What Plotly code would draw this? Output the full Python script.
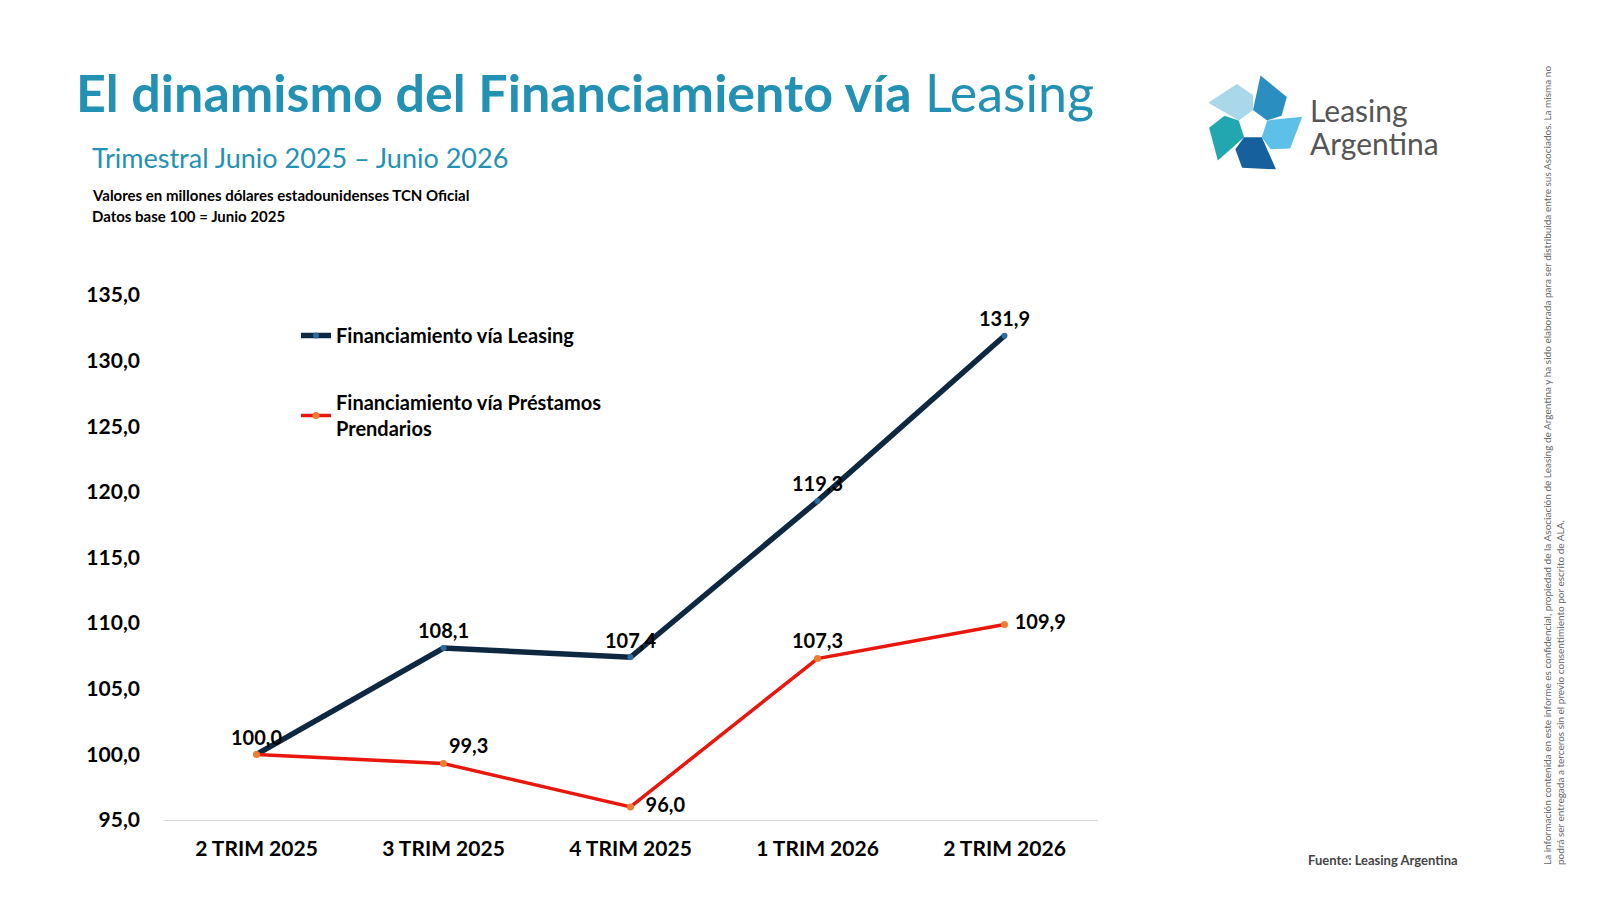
import math
import plotly.graph_objects as go

categories = ["2 TRIM 2025", "3 TRIM 2025", "4 TRIM 2025", "1 TRIM 2026", "2 TRIM 2026"]
leasing = [100.0, 108.1, 107.4, 119.3, 131.9]
prendarios = [100.0, 99.3, 96.0, 107.3, 109.9]
prend_labels = ["", "99,3", "  96,0", "107,3", " 109,9"]

FONT = "Lato"

# plot area in pixels: x 155..1090, y 287..812
L, R, T, B = 155, 1090, 287, 812
def px(x):
  return (x - L) / (R - L)
def py(y):
  return (B - y) / (B - T)

fig = go.Figure()
fig.add_trace(go.Scatter(
  x=categories, y=leasing, name="Financiamiento vía Leasing", legendgroup="a",
  mode="lines+markers+text", line=dict(color="#0e2841", width=5.5),
  marker=dict(color="#2e6b9e", size=6), cliponaxis=False,
  texttemplate="%{y:.1f}", textposition="top center",
  textfont=dict(family=FONT, size=20, color="black", weight="bold")))
fig.add_trace(go.Scatter(
  x=categories, y=prendarios, name="Financiamiento vía Préstamos<br>Prendarios", legendgroup="b",
  mode="lines+markers+text", line=dict(color="#e8160c", width=3.5),
  marker=dict(color="#ed7d31", size=7), cliponaxis=False,
  text=prend_labels,
  textposition=["top center", "top right", "middle right", "top center", "middle right"],
  textfont=dict(family=FONT, size=20, color="black", weight="bold")))

shapes = []
# logo: five coloured arms around a hole
cx, cy = 1245, 117
cols = ["#2a8fc0", "#5cc0e8", "#17609e", "#22a7b0", "#a8d8ea"]
for i in range(5):
  a0 = math.radians(-90 + i * 72)
  a1 = math.radians(-90 + (i + 1) * 72)
  am = math.radians(-90 + i * 72 + 36)
  pts = [(cx + 15 * math.cos(a0), cy + 15 * math.sin(a0)),
         (cx + 50 * math.cos(a0 + 0.15), cy + 50 * math.sin(a0 + 0.15)),
         (cx + 44 * math.cos(am + 0.25), cy + 44 * math.sin(am + 0.25)),
         (cx + 30 * math.cos(a1), cy + 30 * math.sin(a1)),
         (cx + 15 * math.cos(a1), cy + 15 * math.sin(a1))]
  path = "M " + " L ".join(f"{px(x):.4f},{py(y):.4f}" for x, y in pts) + " Z"
  shapes.append(dict(type="path", xref="paper", yref="paper", path=path,
                     fillcolor=cols[i], line=dict(width=0)))

def ann(x, y, text, size, color="black", xanchor="left", **kw):
  return dict(x=px(x), y=py(y), xref="paper", yref="paper", text=text, showarrow=False,
              xanchor=xanchor, yanchor="middle", align="left",
              font=dict(family=FONT, size=size, color=color), **kw)

annotations = [
  ann(66, 84, "<b>El dinamismo del Financiamiento vía</b> Leasing", 52, "#2291b3"),
  ann(82, 150, "Trimestral Junio 2025 – Junio 2026", 27, "#2291b3"),
  ann(82, 187, "<b>Valores en millones dólares estadounidenses TCN Oficial</b>", 15),
  ann(82, 208, "<b>Datos base 100 = Junio 2025</b>", 15),
  ann(1300, 102, "Leasing", 30, "#555555"),
  ann(1300, 135, "Argentina", 30, "#555555"),
  ann(1298, 852, "<b>Fuente: Leasing Argentina</b>", 13, "#444444"),
  ann(1545, 458, "La información contenida en este informe es confidencial, propiedad de la Asociación de Leasing de Argentina y ha sido elaborada para ser distribuida entre sus Asociados. La misma no<br>podrá ser entregada a terceros sin el previo consentimiento por escrito de ALA.",
      10, "#666666", xanchor="center", textangle=-90),
]

fig.update_layout(
  width=1600, height=900, plot_bgcolor="white", paper_bgcolor="white",
  margin=dict(l=L, r=1600 - R, t=T, b=900 - B, autoexpand=False),
  separators=",.", font=dict(family=FONT),
  showlegend=True,
  legend=dict(x=px(288), y=py(308), xanchor="left", yanchor="top",
              font=dict(family=FONT, size=20, color="black", weight="bold"),
              tracegroupgap=38, itemwidth=30, bgcolor="rgba(0,0,0,0)"),
  shapes=shapes, annotations=annotations,
)
fig.update_xaxes(showgrid=False, showline=True, linecolor="#d9d9d9", linewidth=1,
                 ticks="", range=[-0.5, 4.5], ticklabelstandoff=10,
                 tickfont=dict(family=FONT, size=21, color="black", weight="bold"))
fig.update_yaxes(showgrid=False, showline=False, zeroline=False, range=[95, 135],
                 dtick=5, tickformat=".1f", ticklabelstandoff=22,
                 tickfont=dict(family=FONT, size=21, color="black", weight="bold"))
fig.write_html("out.html")
